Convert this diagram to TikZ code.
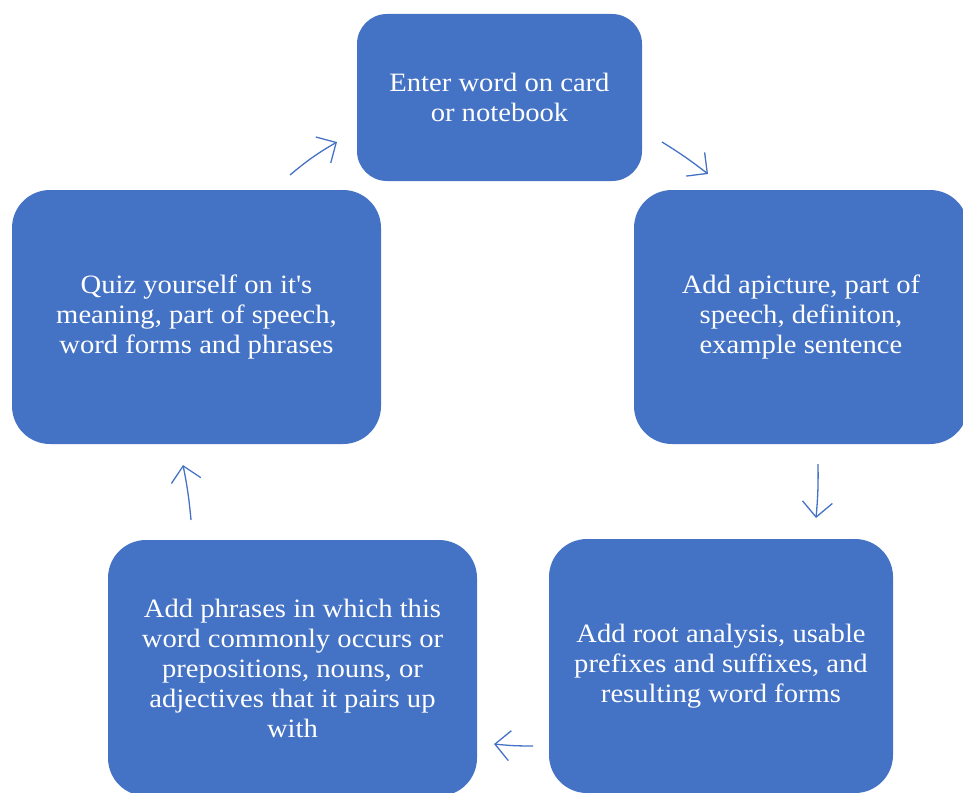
\documentclass[tikz,border=0pt]{standalone}
\usepackage{fontspec}
\setmainfont{Liberation Serif}[FakeStretch=1.08, Ligatures=TeXOff]
\usetikzlibrary{arrows.meta}
\definecolor{boxblue}{HTML}{4472C4}
\tikzset{
  cyclebox/.style={fill=boxblue, draw=none, text=white, align=center,
    rounded corners=#1, inner sep=0pt,
    font=\fontsize{26.5}{30}\selectfont},
  cyclebox/.default=38pt,
  cyclearrow/.style={draw=boxblue, line width=1.3pt,
    -{Straight Barb[length=15pt,width=30pt,line width=1.3pt]}}
}
\begin{document}
\begin{tikzpicture}[x=1pt,y=-1pt]
\useasboundingbox (0,0) rectangle (963,792);
\clip (0,0) rectangle (963,792);
% boxes
\node[cyclebox=30pt, minimum width=285pt, minimum height=167pt] (top) at (499.5,97.5)
  {Enter word on card\\or notebook};
\node[cyclebox, minimum width=334pt, minimum height=254pt] (right) at (801,317)
  {Add apicture, part of\\speech, definiton,\\example sentence};
\node[cyclebox, minimum width=344pt, minimum height=254pt] (botright) at (721,666)
  {Add root analysis, usable\\prefixes and suffixes, and\\resulting word forms};
\node[cyclebox, minimum width=369pt, minimum height=256pt] (botleft) at (292.5,668)
  {Add phrases in which this\\word commonly occurs or\\prepositions, nouns, or\\adjectives that it pairs up\\with};
\node[cyclebox, minimum width=369pt, minimum height=254pt] (left) at (196.5,317)
  {Quiz yourself on it's\\meaning, part of speech,\\word forms and phrases};
% arrow end points
\coordinate (a1s) at (290,175); \coordinate (a1e) at (337,142);
\coordinate (a2s) at (662,142); \coordinate (a2e) at (708,174);
\coordinate (a3s) at (818,464); \coordinate (a3e) at (816,518);
\coordinate (a4s) at (533,746); \coordinate (a4e) at (494,744);
\coordinate (a5s) at (191,520); \coordinate (a5e) at (183,465);
\draw[cyclearrow] (a1s) to[bend left=5] (a1e);
\draw[cyclearrow] (a2s) to[bend left=3] (a2e);
\draw[cyclearrow] (a3s) to[bend left=3] (a3e);
\draw[cyclearrow] (a4s) to[bend left=3] (a4e);
\draw[cyclearrow] (a5s) to[bend right=3] (a5e);
\end{tikzpicture}
\end{document}
